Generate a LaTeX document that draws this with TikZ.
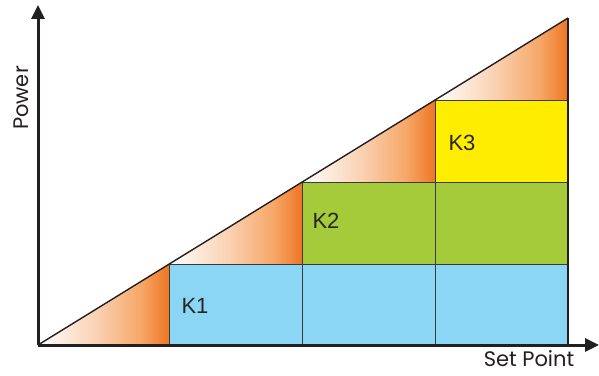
\documentclass[tikz,border=0pt]{standalone}
\usepackage{fontspec}
\setmainfont{Liberation Sans}
\newfontfamily\axisfont{Poppins}
\usetikzlibrary{arrows.meta}
\definecolor{kblue}{HTML}{8BD5F5}
\definecolor{kgreen}{HTML}{A6CB3A}
\definecolor{kyellow}{HTML}{FFED00}
\definecolor{korange}{HTML}{EE7623}
\definecolor{kpeach}{HTML}{FAD2B4}
\definecolor{kpeachb}{HTML}{F6A869}
\definecolor{kdark}{HTML}{231F20}
\definecolor{kgrid}{HTML}{3A3A3A}
\pgfdeclarehorizontalshading{warm}{100bp}{color(0bp)=(white); color(25bp)=(white); color(47bp)=(kpeach); color(64bp)=(kpeachb); color(75bp)=(korange); color(100bp)=(korange)}
\tikzset{
  axisline/.style={line width=3pt, draw=kdark, -{Triangle[length=14pt,width=13pt]}},
  gridline/.style={line width=0.9pt, draw=kgrid},
  wedge/.style={shading=warm},
  klabel/.style={font=\fontsize{22}{26}\selectfont, text=black!85, inner sep=0pt},
  axlabel/.style={font=\axisfont\fontsize{21}{25}\selectfont, text=kdark, inner sep=0pt}
}
\begin{document}
\begin{tikzpicture}[x=1pt,y=1pt]
\useasboundingbox (0,0) rectangle (599,375);
% key points
\coordinate (O) at (38,30);
\coordinate (A1) at (169,110.8);
\coordinate (A2) at (302,192.9);
\coordinate (A3) at (435,274.9);
\coordinate (A4) at (568,357);
\coordinate (B1) at (169,30);
\coordinate (B2) at (302,30);
\coordinate (B3) at (435,30);
\coordinate (B4) at (568,30);
\coordinate (C2) at (302,110.8);
\coordinate (C3) at (435,110.8);
\coordinate (C4) at (568,110.8);
\coordinate (D3) at (435,192.9);
\coordinate (D4) at (568,192.9);
\coordinate (E4) at (568,274.9);
\coordinate (Ytip) at (38,370);
\coordinate (Xtip) at (599,30);
% coloured blocks
\fill[kblue] (B1) rectangle (C4);
\fill[kgreen] (C2) rectangle (D4);
\fill[kyellow] (D3) rectangle (E4);
% wedges
\path[wedge] (O) -- (B1) -- (A1) -- cycle;
\path[wedge] (A1) -- (C2) -- (A2) -- cycle;
\path[wedge] (A2) -- (D3) -- (A3) -- cycle;
\path[wedge] (A3) -- (E4) -- (A4) -- cycle;
% grid lines
\draw[gridline] (B1) -- (A1) -- (C4);
\draw[gridline] (B2) -- (A2) -- (D4);
\draw[gridline] (B3) -- (A3) -- (E4);
% hypotenuse and right edge
\draw[line width=1.4pt, draw=kdark] (O) -- (A4);
\draw[line width=2.4pt, draw=kdark] (B4) -- (A4);
% axes
\draw[axisline] (O) -- (Ytip);
\draw[axisline] (O) -- (Xtip);
% labels
\node[klabel] (k1) at (195,69) {K1};
\node[klabel] (k2) at (326,154) {K2};
\node[klabel] (k3) at (462,232) {K3};
\node[axlabel, rotate=90] (py) at (21,277) {Power};
\node[axlabel, anchor=base] (px) at (529,9) {Set Point};
\end{tikzpicture}
\end{document}
